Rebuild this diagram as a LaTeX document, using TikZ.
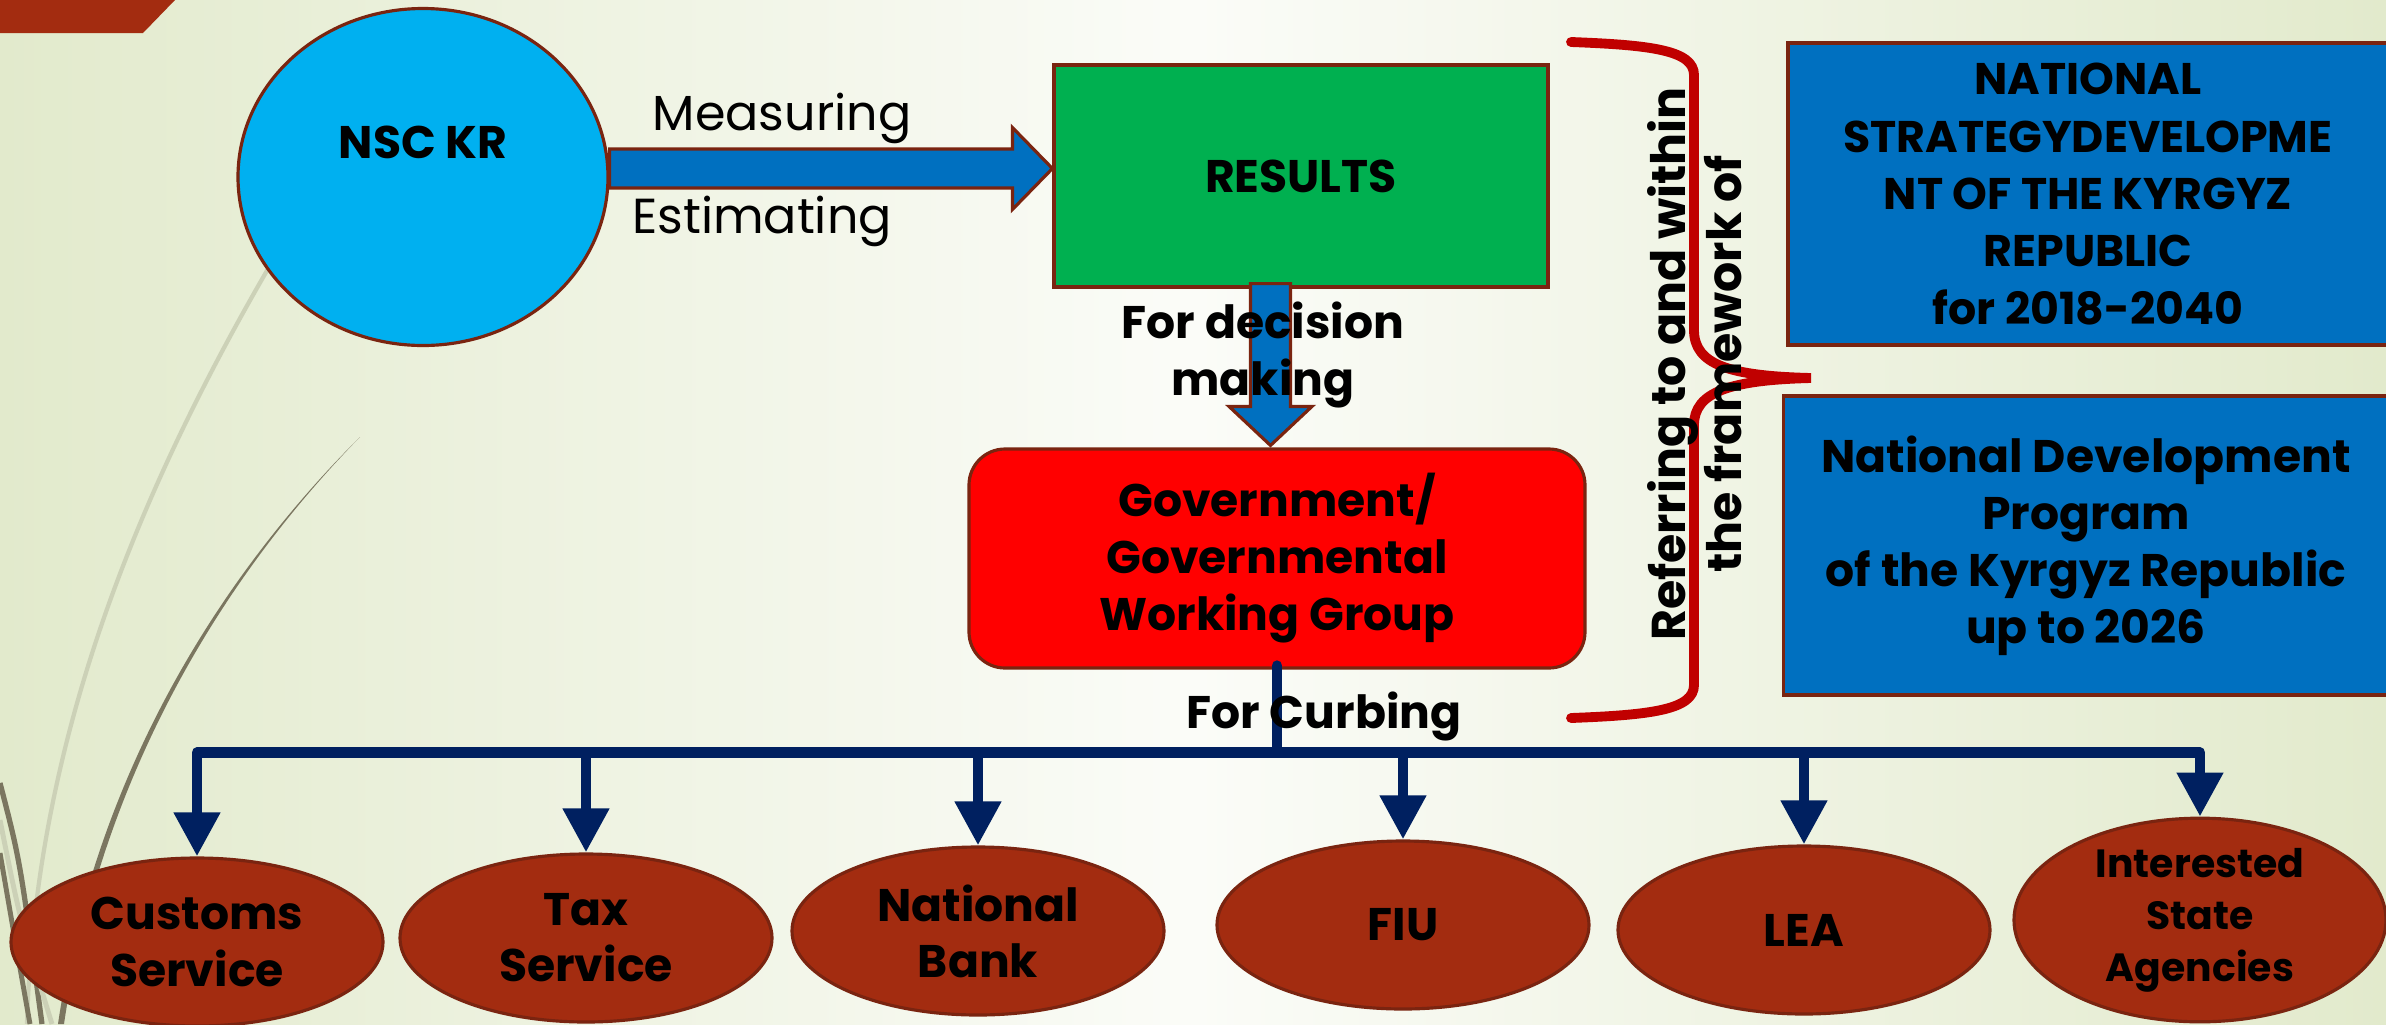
\documentclass[tikz,border=0pt]{standalone}
\usepackage{fontspec}
\setmainfont{Poppins}
\usetikzlibrary{arrows.meta,positioning,calc,shapes.geometric}
\definecolor{Sky}{HTML}{00B0F0}
\definecolor{Ocean}{HTML}{0070C0}
\definecolor{Leaf}{HTML}{00B050}
\definecolor{Signal}{HTML}{FF0000}
\definecolor{Rust}{HTML}{A32C10}
\definecolor{Edge}{HTML}{7A2410}
\definecolor{Navy}{HTML}{002060}
\definecolor{Crimson}{HTML}{C00000}
\definecolor{PaleGreen}{HTML}{E2EACC}
\definecolor{Chalk}{HTML}{FBFCF8}
\definecolor{Olive}{HTML}{7B7660}
\definecolor{Sage}{HTML}{CCD1B7}
\tikzset{
  box/.style={draw=Edge,line width=.9pt,align=center,inner sep=0pt,font=\bfseries\fontsize{13}{16.2}\selectfont},
  plan/.style={box,fill=Ocean,font=\bfseries\fontsize{12.6}{16.3}\selectfont},
  agency/.style={ellipse,draw=Edge,fill=Rust,line width=.9pt,minimum width=3.72cm,minimum height=1.68cm,inner sep=0pt,align=center,font=\bfseries\fontsize{13}{16}\selectfont},
  block/.style={draw=Edge,fill=Ocean,line width=.9pt,line join=miter},
  bus/.style={draw=Navy,line width=3pt},
  feed/.style={-{Triangle[length=12.5pt,width=12.5pt]},draw=Navy,line width=3pt},
  tag/.style={font=\bfseries\fontsize{13}{16.2}\selectfont,align=center},
  verb/.style={font=\fontsize{14}{16}\selectfont,anchor=base},
}

\begin{document}
\begin{tikzpicture}
  % slide background and decoration
  \shade[left color=PaleGreen,right color=PaleGreen,middle color=Chalk] (0,0) rectangle (23.86,-10.24);
  \useasboundingbox (0,0) rectangle (23.86,-10.24);
  \clip (0,0) rectangle (23.86,-10.24);
  \fill[Rust] (0,0) -- (1.75,0) -- (1.43,-0.33) -- (0,-0.33) -- cycle;
  \draw[Sage,line width=1.2pt] (2.85,-2.4) .. controls (1.3,-5.0) and (0.35,-7.5) .. (0.27,-10.24);
  \fill[Olive] (3.6,-4.37) .. controls (2.2,-5.8) and (1.0,-7.8) .. (0.64,-10.24) -- (0.58,-10.24) .. controls (0.94,-7.8) and (2.16,-5.8) .. (3.6,-4.37) -- cycle;
  \draw[Olive,line width=1.5pt] (0,-7.83) .. controls (0.2,-8.6) .. (0.42,-10.24);
  \draw[Sage,line width=1.4pt] (0,-8.2) .. controls (0.2,-9.2) .. (0.52,-10.24);
  \draw[Olive,line width=1.4pt] (0,-8.53) .. controls (0.15,-9.4) .. (0.3,-10.24);

  % main chain
  \node[ellipse,draw=Edge,fill=Sky,line width=.9pt,minimum width=3.70cm,minimum height=3.37cm,
        font=\bfseries\fontsize{13}{16}\selectfont] (nsc) at (4.23,-1.77) {\raisebox{0.19cm}[0pt][0pt]{NSC KR}};
  \node[box,fill=Leaf,minimum width=4.94cm,minimum height=2.22cm] (res) at (13.01,-1.76) {RESULTS};
  \node[box,fill=Signal,rounded corners=.36cm,minimum width=6.16cm,minimum height=2.19cm] (gov) at (12.77,-5.585)
        {Government/\\Governmental\\Working Group};

  % strategy documents
  \node[plan,minimum width=6.0cm,minimum height=3.02cm] (nsdp) at (20.88,-1.94)
        {NATIONAL\\STRATEGYDEVELOPME\\NT OF THE KYRGYZ\\REPUBLIC\\for 2018-2040};
  \node[plan,minimum width=6.05cm,minimum height=2.99cm,font=\bfseries\fontsize{13}{16.2}\selectfont] (ndp) at (20.86,-5.455)
        {National Development\\Program\\of the Kyrgyz Republic\\up to 2026};

  % block arrows
  \coordinate (tipA) at ($(res.west)+(0,0.075)$);
  \draw[block] ($(nsc.east |- tipA)+(0,0.195)$) -- ($(tipA)+(-0.40,0.195)$) -- ($(tipA)+(-0.40,0.41)$) -- (tipA)
        -- ($(tipA)+(-0.40,-0.41)$) -- ($(tipA)+(-0.40,-0.195)$) -- ($(nsc.east |- tipA)+(0,-0.195)$) -- cycle;
  \node[verb] (meas) at (7.82,-1.30) {Measuring};
  \node[verb] (est) at (7.62,-2.33) {Estimating};

  \coordinate (tipB) at ($(gov.north)+(-0.065,0.02)$);
  \draw[block] ($(tipB |- res.south)+(-0.2,0.05)$) -- ($(tipB)+(-0.2,0.39)$) -- ($(tipB)+(-0.415,0.39)$) -- (tipB)
        -- ($(tipB)+(0.415,0.39)$) -- ($(tipB)+(0.2,0.39)$) -- ($(tipB |- res.south)+(0.2,0.05)$) -- cycle;
  \node[tag] (decide) at (12.63,-3.55) {For decision\\making};

  % brace towards the strategy documents
  \draw[Crimson,line width=2.8pt,line cap=round]
    (15.71,-0.42) .. controls (16.5,-0.45) and (16.94,-0.5) .. (16.94,-0.75) -- (16.94,-3.3)
    .. controls (16.94,-3.65) and (17.3,-3.76) .. (18.11,-3.78)
    .. controls (17.3,-3.8) and (16.94,-3.92) .. (16.94,-4.25) -- (16.94,-6.85)
    .. controls (16.94,-7.1) and (16.5,-7.15) .. (15.71,-7.18);
  \node[tag,rotate=90,font=\bfseries\fontsize{13.5}{16}\selectfont] (frame) at (16.95,-3.64)
        {Referring to and within\\the framework of};

  % agencies
  \node[agency] (customs) at (1.97,-9.42) {Customs\\Service};
  \node[agency] (tax) at (5.86,-9.38) {Tax\\Service};
  \node[agency] (bank) at (9.78,-9.31) {National\\Bank};
  \node[agency] (fiu) at (14.03,-9.25) {FIU};
  \node[agency] (lea) at (18.04,-9.30) {LEA};
  \node[agency,font=\bfseries\fontsize{11.2}{14.8}\selectfont] (isa) at (22.00,-9.20) {Interested\\State\\Agencies};

  % distribution bus
  \coordinate (split) at ($(gov.south)+(0,-0.83)$);
  \draw[bus,line cap=round] ($(gov.south)+(0,0.04)$) -- (split);
  \draw[bus,{Triangle[length=12.5pt,width=12.5pt]}-{Triangle[length=12.5pt,width=12.5pt]},line join=round]
    (customs.north) -- (customs.north |- split) -- (isa.north |- split) -- (isa.north);
  \foreach \n in {tax,bank,fiu,lea}
    \draw[feed] (\n.north |- split) -- (\n.north);
  \node[tag,anchor=base] (curb) at (13.24,-7.28) {For Curbing};
\end{tikzpicture}
\end{document}
